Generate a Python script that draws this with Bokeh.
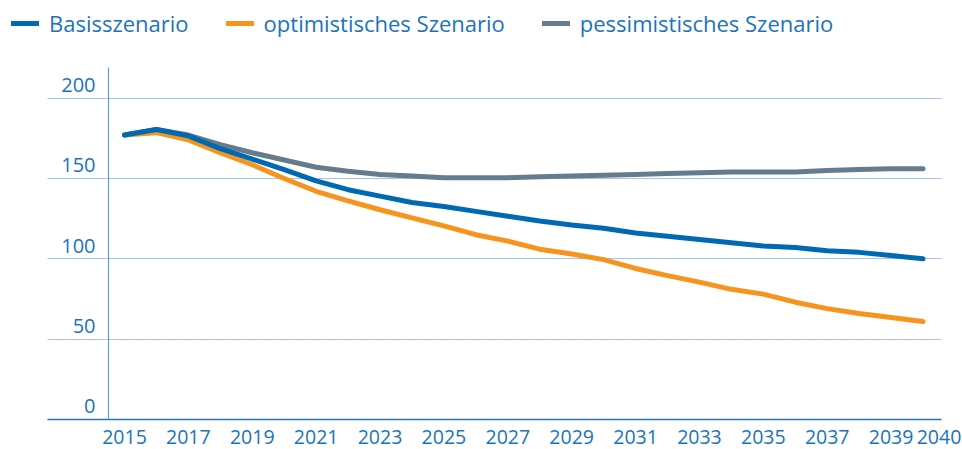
from bokeh.plotting import figure
from bokeh.models import Range1d, LinearAxis, FixedTicker, Grid, Legend, LegendItem
from bokeh.core.properties import value
from bokeh.embed import file_html
from bokeh.resources import INLINE

# ---- data ----
years = list(range(2015, 2041))
basis = [177, 180.5, 176.5, 168.5, 162, 155.5, 148.5, 143, 139, 135, 132.5, 129.5, 126.5,
         123.5, 121, 119, 116, 114, 112, 110, 108, 107, 105, 104, 102, 100]
optimistisch = [177, 178.5, 174, 166, 158.5, 150, 142, 136, 130.5, 125.5, 120.5, 115, 111,
                106, 103, 99.5, 94, 89.5, 85.5, 81, 78, 73, 69, 66, 63.5, 61]
pessimistisch = [177, 180.5, 177, 171, 166, 161.5, 157, 154.5, 152.5, 151.5, 150.5, 150.5, 150.5,
                 151, 151.5, 152, 152.5, 153, 153.5, 154, 154, 154, 155, 155.5, 156, 156]
series_names = ["Basisszenario", "optimistisches Szenario", "pessimistisches Szenario"]
y_ticks = [0, 50, 100, 150, 200]
y_tick_labels = ["0", "50", "100", "150", "200"]
x_tick_positions = [2015, 2017, 2019, 2021, 2023, 2025, 2027, 2029, 2031, 2033, 2035, 2037, 2039, 2040.5]
x_tick_labels = ["2015", "2017", "2019", "2021", "2023", "2025", "2027", "2029", "2031", "2033",
                 "2035", "2037", "2039", "2040"]

# ---- style / layout constants ----
FONT = "Open Sans"
TEXT_BLUE = "#1a74bb"
C_BASIS = "#0069b4"
C_OPT = "#f7941d"
C_PES = "#667c8c"
GRID_C = "#a8c5e8"
X0, X1 = 2011.118, 2041.236
Y0, Y1 = -18.67, 260.73
GRID_LEFT, GRID_RIGHT = 2012.589, 2040.579
YAXIS_X = 2014.5
YAXIS_TOP = 219

p = figure(width=962, height=449, output_backend="svg", toolbar_location=None,
           x_range=Range1d(X0, X1), y_range=Range1d(Y0, Y1),
           x_axis_location=None, y_axis_location=None,
           min_border_left=0, min_border_right=0, min_border_top=0, min_border_bottom=0)
p.outline_line_color = None
p.background_fill_color = "white"
p.border_fill_color = "white"
p.xgrid.visible = False
p.ygrid.visible = False

grid = Grid(dimension=1, ticker=FixedTicker(ticks=y_ticks), grid_line_color=GRID_C,
            grid_line_width=1, cross_bounds=(GRID_LEFT, GRID_RIGHT))
p.add_layout(grid)

# bottom axis at y=0
xaxis = LinearAxis(fixed_location=0, bounds=(GRID_LEFT, GRID_RIGHT),
                   ticker=FixedTicker(ticks=x_tick_positions),
                   major_label_overrides={k: v for k, v in zip(x_tick_positions, x_tick_labels)},
                   axis_line_color="#2a72b5", axis_line_width=1.5,
                   major_tick_line_color=None, minor_tick_line_color=None,
                   major_label_standoff=5,
                   major_label_text_font=FONT, major_label_text_font_size="19.5px",
                   major_label_text_color=TEXT_BLUE)
p.add_layout(xaxis, "below")

# vertical y axis line
yaxis = LinearAxis(fixed_location=YAXIS_X, bounds=(0, YAXIS_TOP),
                   ticker=FixedTicker(ticks=[]),
                   axis_line_color="#5e9ed8", axis_line_width=1.2,
                   major_tick_line_color=None, minor_tick_line_color=None,
                   major_label_text_font_size="0px")
p.add_layout(yaxis, "left")

# y tick labels above grid lines
p.text(x=[X0] * len(y_ticks), y=y_ticks, text=y_tick_labels,
       x_offset=95, y_offset=-13, text_align="right", text_baseline="middle",
       text_font=value(FONT), text_font_size="20px", text_color=TEXT_BLUE)

r_pes = p.line(years, pessimistisch, line_color=C_PES, line_width=5, line_cap="round", line_join="round")
r_opt = p.line(years, optimistisch, line_color=C_OPT, line_width=5, line_cap="round", line_join="round")
r_bas = p.line(years, basis, line_color=C_BASIS, line_width=5, line_cap="round", line_join="round")

legend = Legend(items=[LegendItem(label=series_names[0], renderers=[r_bas]),
                       LegendItem(label=series_names[1], renderers=[r_opt]),
                       LegendItem(label=series_names[2], renderers=[r_pes])],
                orientation="horizontal", location=(11, 411),
                glyph_width=28, glyph_height=20, label_height=20, label_standoff=10, spacing=37,
                padding=0, margin=0, background_fill_alpha=0, border_line_alpha=0,
                label_text_font=FONT, label_text_font_size="22px", label_text_color=TEXT_BLUE)
p.add_layout(legend, "center")

open("out.html", "w").write(file_html(p, INLINE))
